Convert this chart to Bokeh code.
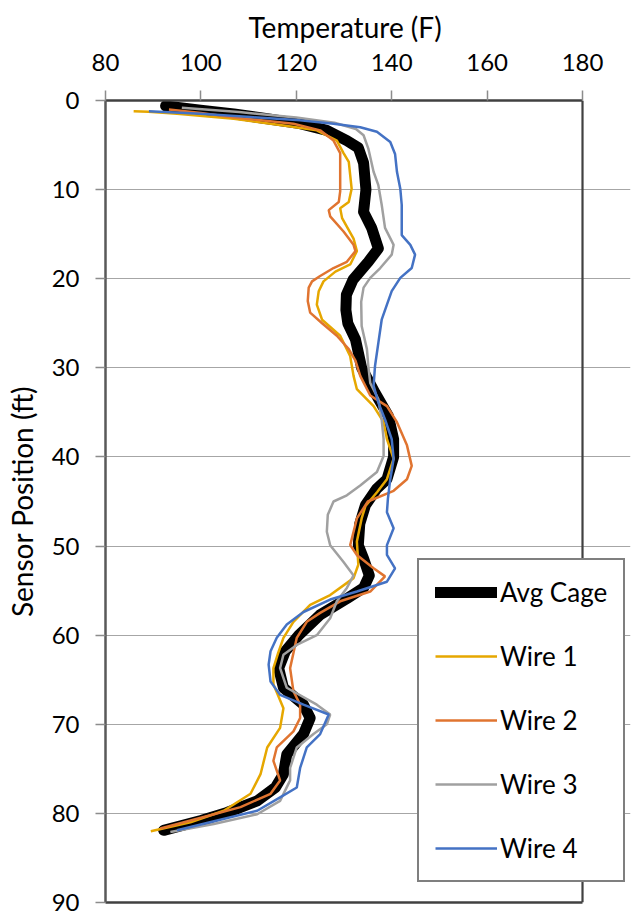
from bokeh.plotting import figure
from bokeh.models import Range1d, FixedTicker, Legend, LegendItem, LinearAxis, Title
from bokeh.embed import file_html
from bokeh.resources import INLINE

# ---- data ----
avg_temp = [92.6, 99.9, 106.9, 113.9, 120.8, 126.4, 130.6, 133.0, 134.1, 134.6, 134.1, 135.8,
            137.2, 135.1, 131.9, 130.5, 130.4, 130.8, 132.4, 133.7, 136.5, 139.3, 140.4, 140.4,
            139.0, 136.8, 134.5, 133.3, 133.0, 134.1, 135.3, 134.1, 130.6, 125.0, 120.5, 117.7,
            116.3, 117.3, 121.5, 122.9, 121.5, 118.0, 117.3, 115.6, 111.8, 105.5, 100.0, 92.2]
avg_depth = [0.6, 1.1, 1.5, 2.05, 2.6, 3.35, 4.5, 5.3, 7.0, 10.0, 12.5, 14.3,
             16.6, 18.1, 20.1, 21.8, 23.5, 25.0, 26.8, 30.0, 32.8, 35.4, 38.0, 40.0,
             42.5, 43.6, 45.4, 47.5, 49.9, 51.4, 53.3, 54.7, 55.9, 57.7, 60.0, 61.8,
             63.7, 65.9, 67.8, 69.3, 71.1, 73.4, 75.6, 77.1, 78.6, 79.9, 80.8, 81.9]

w1_temp = [85.9, 89.0, 95.0, 106.9, 117.3, 124.3, 128.5, 129.9, 131.0, 131.6, 131.0, 129.2,
           129.6, 132.0, 132.7, 131.3, 128.2, 125.7, 124.7, 124.3, 125.4, 129.2, 131.3, 132.0,
           132.7, 136.2, 138.3, 139.0, 140.4, 139.0, 137.0, 134.5, 133.7, 132.7, 133.0, 132.0,
           127.1, 122.9, 119.4, 117.3, 116.2, 115.2, 115.2, 117.3, 116.6, 113.9, 112.5, 110.4,
           104.8, 97.8, 89.5]
w1_depth = [1.2, 1.25, 1.5, 2.05, 2.8, 3.35, 4.5, 5.9, 6.9, 9.9, 11.4, 12.1,
            13.2, 15.5, 16.9, 18.4, 19.2, 20.3, 21.4, 22.9, 24.6, 26.4, 28.7, 30.9,
            32.4, 34.3, 36.1, 38.0, 40.2, 42.5, 43.9, 45.5, 46.9, 49.5, 52.1, 53.6,
            55.5, 56.6, 58.5, 60.3, 62.0, 63.7, 65.5, 68.2, 70.4, 72.6, 75.6, 77.8,
            79.7, 81.0, 82.0]

w2_temp = [93.3, 100.0, 106.9, 119.4, 125.0, 127.8, 129.2, 129.2, 129.2, 128.9, 126.8, 127.1,
           129.9, 132.0, 132.4, 130.6, 127.8, 125.0, 123.3, 122.6, 122.4, 122.9, 125.4, 128.5,
           131.0, 132.4, 133.4, 135.5, 139.0, 141.1, 143.2, 144.2, 143.2, 140.4, 135.0, 132.7,
           131.3, 132.7, 136.2, 138.6, 135.5, 129.2, 125.0, 122.2, 120.1, 119.4, 118.7, 119.4,
           120.8, 120.8, 119.4, 115.9, 115.2, 116.6, 114.6, 108.3, 100.6, 91.5]
w2_depth = [1.0, 1.4, 1.9, 2.6, 3.35, 4.5, 5.9, 6.9, 10.2, 11.4, 12.3, 13.0,
            14.7, 16.2, 16.9, 18.1, 18.8, 19.7, 20.3, 21.0, 22.5, 23.8, 25.0, 26.4,
            27.9, 29.2, 30.9, 33.1, 34.3, 36.1, 38.7, 41.0, 42.5, 43.8, 45.0, 46.9,
            49.9, 51.0, 52.5, 53.4, 55.1, 56.2, 57.5, 58.5, 60.3, 62.0, 63.7, 66.3,
            67.8, 69.3, 70.8, 72.6, 74.1, 76.3, 77.8, 79.3, 80.4, 81.7]

w3_temp = [96.0, 108.0, 120.0, 128.0, 132.5, 134.1, 135.1, 136.2, 137.2, 137.9, 138.6, 140.4,
           140.0, 137.6, 135.5, 134.1, 133.6, 133.7, 134.8, 135.1, 135.5, 137.2, 137.9, 138.3,
           138.3, 136.9, 133.4, 130.6, 127.8, 126.6, 126.4, 127.1, 129.9, 132.0, 130.6, 128.5,
           127.1, 124.3, 120.1, 117.3, 116.6, 118.0, 124.3, 127.1, 126.4, 123.6, 120.1, 118.7,
           118.7, 116.6, 111.8, 102.7, 93.6]
w3_depth = [0.8, 1.3, 1.9, 2.5, 3.2, 3.9, 5.4, 8.0, 9.5, 11.7, 14.3, 16.2,
            17.3, 18.8, 19.9, 21.0, 22.6, 25.3, 27.9, 29.8, 31.7, 33.5, 35.8, 38.0,
            39.9, 41.7, 43.2, 44.3, 45.0, 46.5, 48.4, 49.9, 51.8, 53.3, 54.7, 56.2,
            58.1, 60.0, 61.1, 62.2, 63.7, 65.9, 67.8, 68.9, 70.0, 71.1, 72.6, 74.9,
            76.3, 78.6, 80.1, 81.2, 82.1]

w4_temp = [89.1, 99.9, 110.4, 120.8, 127.8, 133.4, 136.9, 139.7, 140.7, 141.1, 141.8, 142.1,
           142.1, 143.9, 144.9, 144.2, 141.8, 140.0, 139.0, 137.9, 137.2, 136.5, 136.2, 137.2,
           138.6, 140.0, 140.4, 139.7, 139.2, 139.0, 140.4, 139.0, 139.0, 140.7, 139.0, 132.7,
           127.1, 121.5, 118.0, 115.9, 114.6, 114.2, 114.6, 116.6, 121.5, 126.8, 125.0, 122.2,
           120.8, 120.1, 116.6, 111.8, 103.4, 95.0]
w4_depth = [1.2, 1.5, 1.86, 2.23, 2.6, 3.0, 3.5, 4.65, 6.0, 8.0, 9.9, 11.7,
            15.1, 16.2, 17.3, 18.8, 19.9, 21.4, 22.9, 24.6, 27.2, 29.8, 32.0, 33.9,
            35.8, 38.0, 40.2, 42.5, 44.7, 46.2, 48.0, 49.9, 51.0, 52.5, 54.0, 55.1,
            56.0, 57.4, 58.8, 60.3, 61.8, 63.3, 65.2, 66.7, 67.8, 68.9, 71.1, 72.6,
            74.9, 77.1, 78.2, 79.7, 80.8, 81.9]

series_names = ["Avg Cage", "Wire 1", "Wire 2", "Wire 3", "Wire 4"]
x_ticks = [80, 100, 120, 140, 160, 180]
y_ticks = [0, 10, 20, 30, 40, 50, 60, 70, 80, 90]
x_lo, x_hi = 80, 180
y_lo, y_hi = 0, 90
x_title = "Temperature (F)"
y_title = "Sensor Position (ft)"

FONT = "Lato"

# frame is widened to the right (to hold the legend box that overhangs the plot area);
# axis / grid bounds keep the drawn plot area at 80..180
p = figure(width=640, height=915, output_backend="svg", toolbar_location=None,
           x_axis_location="above",
           x_range=Range1d(80, 190.06), y_range=Range1d(90, 0),
           min_border_left=105, min_border_right=10, min_border_top=100, min_border_bottom=13,
           background_fill_color="white", border_fill_color="white")

p.outline_line_color = None

# grid
p.xgrid.visible = False
p.ygrid.grid_line_color = "#A6A6A6"
p.ygrid.grid_line_width = 1.2
p.ygrid.ticker = FixedTicker(ticks=y_ticks)
p.ygrid.bounds = (x_lo, x_hi)

# axes
xa = p.xaxis[0]
xa.ticker = FixedTicker(ticks=x_ticks)
xa.bounds = (x_lo, x_hi)
ya = p.yaxis[0]
ya.ticker = FixedTicker(ticks=y_ticks)
ya.axis_label = y_title
for ax in (xa, ya):
    ax.major_label_text_font = FONT
    ax.major_label_text_font_size = "24px"
    ax.major_label_text_color = "#000000"
    ax.axis_label_text_font = FONT
    ax.axis_label_text_font_size = "28px"
    ax.axis_label_text_font_style = "normal"
    ax.axis_label_text_color = "#000000"
    ax.major_tick_out = 10
    ax.major_tick_in = 0
    ax.minor_tick_out = 0
    ax.minor_tick_in = 0
    ax.major_tick_line_color = "#8C8C8C"
    ax.major_tick_line_width = 1.5
    ax.axis_line_width = 2.5
xa.axis_line_color = "#404040"
ya.axis_line_color = "#595959"
xa.major_label_standoff = 20
ya.major_label_standoff = 16
ya.axis_label_standoff = 10

# x-axis title, centred over the 80..180 plot area
p.add_layout(Title(text=x_title, align="left", offset=143, standoff=13,
                   text_font=FONT, text_font_size="28px", text_font_style="normal",
                   text_line_height=0.9, text_color="#000000"), "above")

# bottom border of the plot area (plain axis line, no ticks/labels)
bottom = LinearAxis(bounds=(x_lo, x_hi), ticker=FixedTicker(ticks=[]),
                    axis_line_color="#404040", axis_line_width=2.5,
                    major_tick_out=0, major_tick_in=0, minor_tick_out=0, minor_tick_in=0,
                    major_label_text_font_size="0px")
p.add_layout(bottom, "below")

# right border of the plot area
p.segment(x0=[x_hi], y0=[y_lo], x1=[x_hi], y1=[y_hi], line_color="#404040", line_width=2.2)

# lines (avg drawn first, underneath)
r_avg = p.line(avg_temp, avg_depth, line_color="black", line_width=11, line_cap="round", line_join="round")
r1 = p.line(w1_temp, w1_depth, line_color="#E6A700", line_width=2.5)
r2 = p.line(w2_temp, w2_depth, line_color="#E07430", line_width=2.5)
r3 = p.line(w3_temp, w3_depth, line_color="#A0A0A0", line_width=2.5)
r4 = p.line(w4_temp, w4_depth, line_color="#4472C4", line_width=2.5)

items = [LegendItem(label=n, renderers=[r]) for n, r in zip(series_names, [r_avg, r1, r2, r3, r4])]
legend = Legend(items=items, location=(312, 20), margin=0, padding=16,
                glyph_width=62, glyph_height=30, label_height=30, label_standoff=3,
                spacing=32, label_text_font=FONT, label_text_font_size="26px",
                label_text_color="#000000",
                border_line_color="black", border_line_width=2,
                background_fill_color="white", background_fill_alpha=1.0)
p.add_layout(legend)

open("out.html", "w").write(file_html(p, INLINE))
